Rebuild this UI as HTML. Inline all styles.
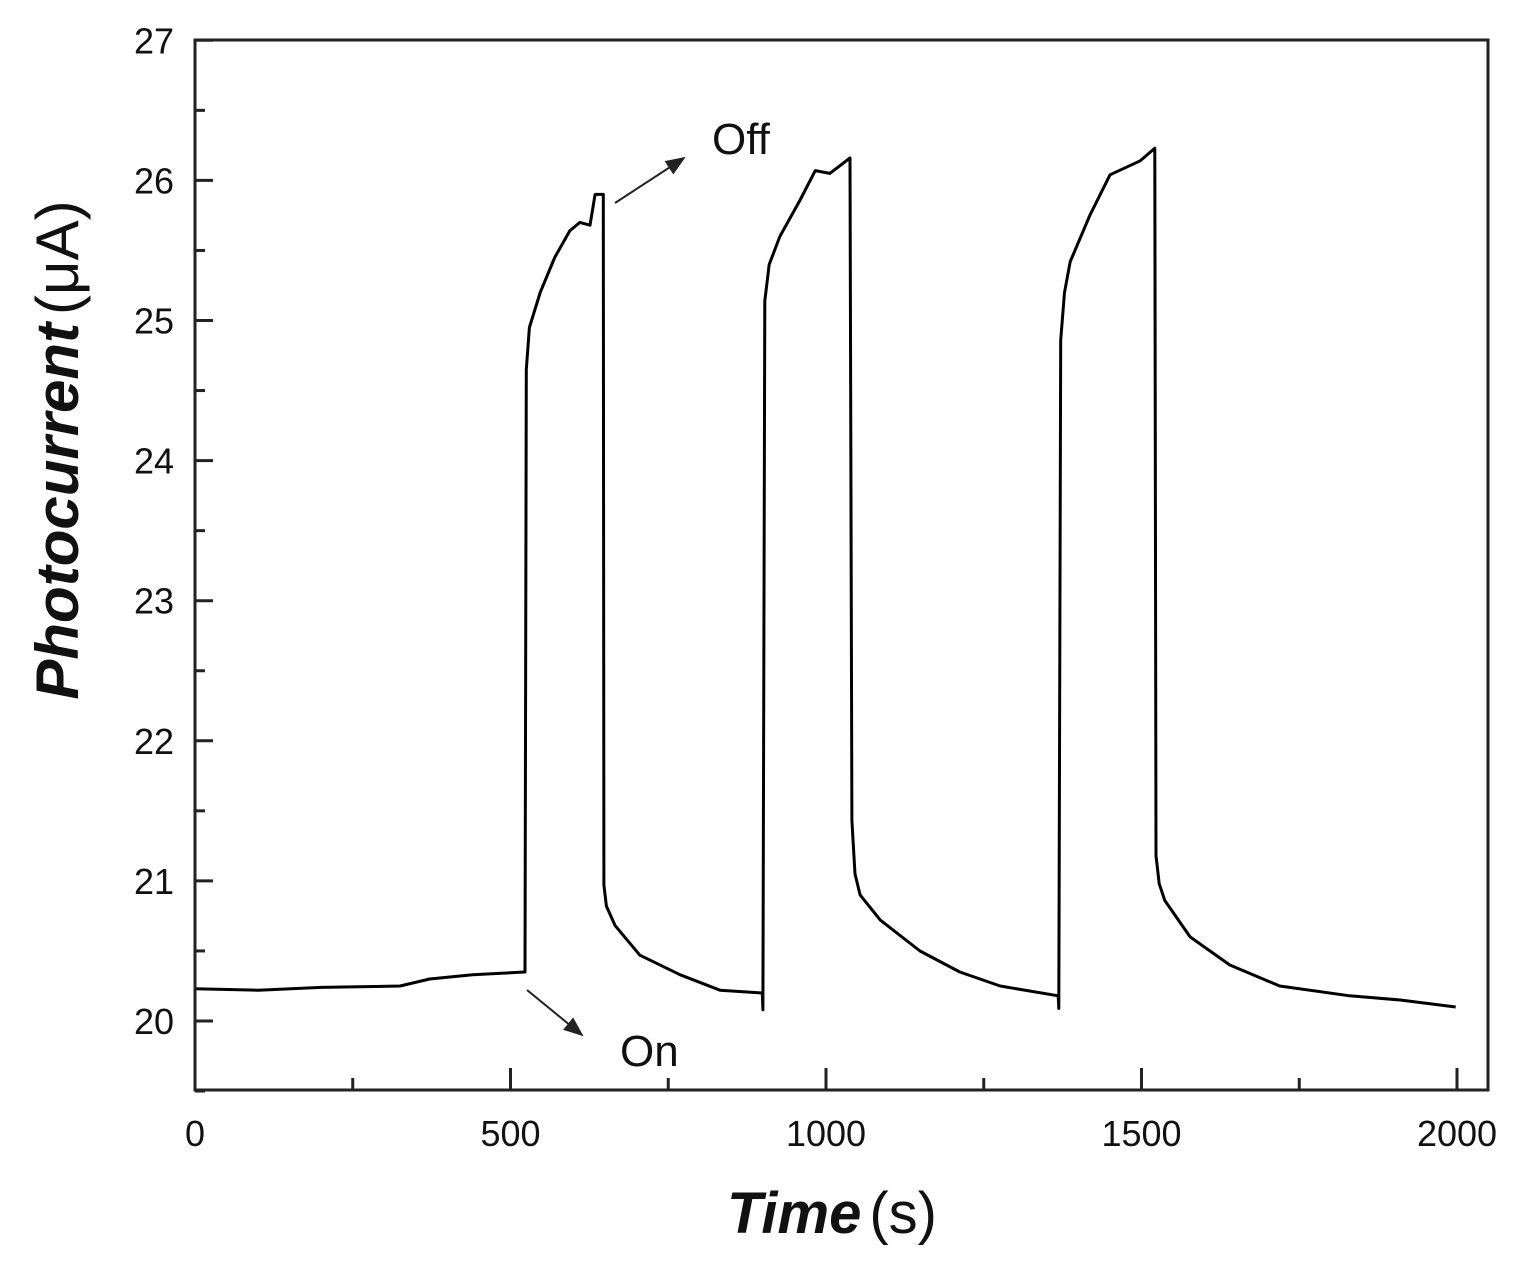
<!DOCTYPE html>
<html><head><meta charset="utf-8"><style>
html,body{margin:0;padding:0;background:#fff;}
svg{display:block;font-family:"Liberation Sans",Arial,sans-serif;}
</style></head><body>
<svg id="chart" width="1513" height="1261" viewBox="0 0 1513 1261">
<defs><marker id="ah" markerWidth="10" markerHeight="8" refX="9" refY="4" orient="auto"><path d="M0,0 L10,4 L0,8 z" fill="#222"/></marker></defs>
<g id="ticks"></g>
<path id="line" fill="none" stroke="#000" stroke-width="3" stroke-linejoin="round"/>
<rect x="195" y="40" width="1293" height="1050" fill="none" stroke="#222" stroke-width="3"/>
<text x="78" y="450" transform="rotate(-90 78 450)" text-anchor="middle" font-size="60" fill="#111"><tspan font-weight="bold" font-style="italic">Photocurrent</tspan><tspan dx="8">(μA)</tspan></text>
<text x="832" y="1233" text-anchor="middle" font-size="58" fill="#111"><tspan font-weight="bold" font-style="italic">Time</tspan><tspan dx="8">(s)</tspan></text>
<text x="712" y="154" font-size="44" fill="#111">Off</text>
<line x1="615" y1="203" x2="684" y2="158" stroke="#222" stroke-width="2" marker-end="url(#ah)"/>
<text x="620" y="1066" font-size="44" fill="#111">On</text>
<line x1="527" y1="990" x2="582" y2="1035" stroke="#222" stroke-width="2" marker-end="url(#ah)"/>
</svg>
<script>
const times=[0,100,200,325,372,440,523,525,530,547,570,594,610,626,634,647,648,652,666,705,769,832,899,900,903,910,927,959,983,1006,1038,1041,1046,1054,1086,1149,1212,1276,1368,1369,1372,1378,1387,1418,1450,1498,1521,1523,1528,1537,1577,1640,1719,1830,1910,1998];
const current=[20.23,20.22,20.24,20.25,20.30,20.33,20.35,24.65,24.95,25.2,25.45,25.64,25.7,25.68,25.9,25.9,20.97,20.82,20.68,20.47,20.33,20.22,20.2,20.08,25.14,25.4,25.6,25.86,26.07,26.05,26.16,21.43,21.05,20.9,20.72,20.5,20.35,20.25,20.18,20.09,24.86,25.2,25.42,25.75,26.04,26.14,26.23,21.18,20.98,20.86,20.6,20.4,20.25,20.18,20.15,20.1];
const xTicks=[0,500,1000,1500,2000];
const yTicks=[20,21,22,23,24,25,26,27];
const X=t=>195+t*0.631;
const Y=v=>1021-(v-20)*140.1;
const NS='http://www.w3.org/2000/svg';
document.getElementById('line').setAttribute('d',times.map((t,i)=>(i?'L':'M')+X(t).toFixed(1)+','+Y(current[i]).toFixed(1)).join(''));
const g=document.getElementById('ticks');
function ln(x1,y1,x2,y2,name){const l=document.createElementNS(NS,'line');l.setAttribute('x1',x1);l.setAttribute('y1',y1);l.setAttribute('x2',x2);l.setAttribute('y2',y2);l.setAttribute('stroke','#222');l.setAttribute('stroke-width','3');


g.appendChild(l);}
function tx(x,y,s,anchor,name){const t=document.createElementNS(NS,'text');t.setAttribute('x',x);t.setAttribute('y',y);t.setAttribute('text-anchor',anchor);t.setAttribute('font-size','36');t.setAttribute('fill','#111');t.textContent=s;


g.appendChild(t);}
xTicks.forEach(v=>{ln(X(v),1090,X(v),1068,'x-major-tick');tx(X(v),1146,String(v),'middle','x-tick-label');});
for(let v=250;v<=2000;v+=500){ln(X(v),1090,X(v),1078,'x-minor-tick');}
yTicks.forEach(v=>{ln(195,Y(v),213,Y(v),'y-major-tick');tx(174,Y(v)+13,String(v),'end','y-tick-label');});
for(let v=19.5;v<27;v+=1){ln(195,Y(v),205,Y(v),'y-minor-tick');}
</script>
</body></html>
